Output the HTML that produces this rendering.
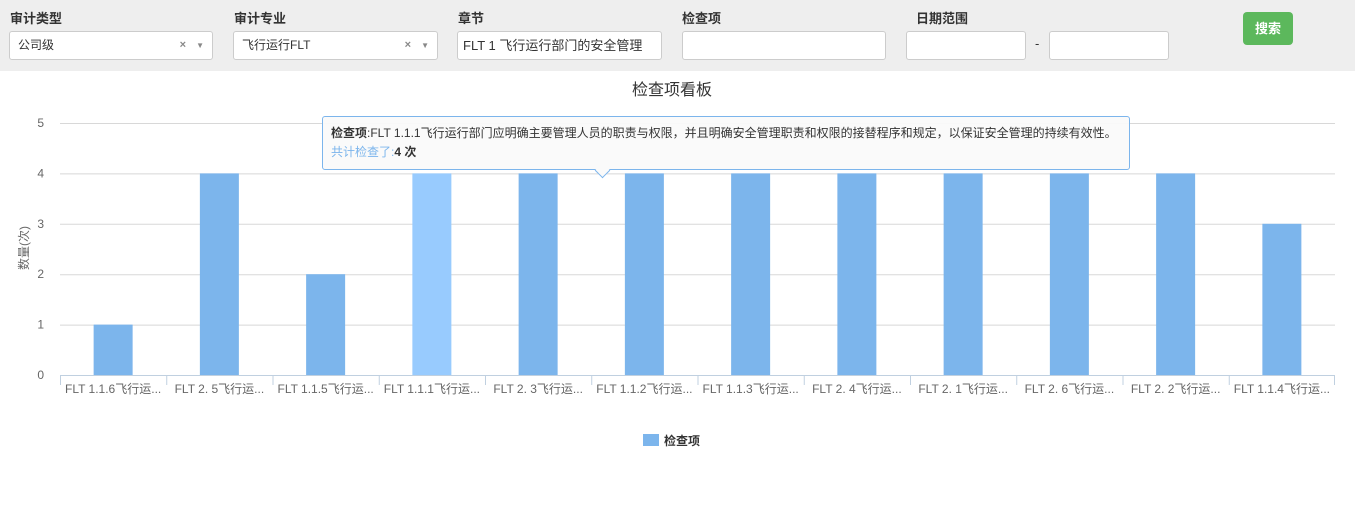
<!DOCTYPE html>
<html><head><meta charset="utf-8">
<style>
*{box-sizing:border-box;margin:0;padding:0}
body{width:1355px;height:514px;background:#fff;font-family:"Liberation Sans","Noto Sans CJK SC",sans-serif;position:relative;overflow:hidden}
.top{position:absolute;left:0;top:0;width:1355px;height:71px;background:#eeeeee}
.lbl{position:absolute;top:8px;font-size:13px;font-weight:bold;color:#333}
.inp{position:absolute;top:31px;height:29px;background:#fff;border:1px solid #ccc;border-radius:3px;font-size:12px;color:#333;padding-left:8px;line-height:27px}
.x{position:absolute;right:26px;top:0;color:#888;font-size:11px;font-weight:bold}
.ar{position:absolute;right:8px;top:0;color:#888;font-size:8px}
.btn{position:absolute;left:1243px;top:12px;width:50px;height:33px;background:#5cb85c;border-radius:4px;color:#fff;font-size:13px;font-weight:bold;text-align:center;line-height:33px}
svg{position:absolute;left:0;top:71px}
.tip{position:absolute;left:322px;top:116px;width:808px;height:54px;background:rgba(250,250,250,.95);border:1px solid #7cb5ec;border-radius:3px;font-size:12px;color:#333;padding:7px 8px;line-height:19px}
.tip:after{content:"";position:absolute;left:274px;bottom:-7px;width:10px;height:10px;background:#fafafa;border-right:1px solid #7cb5ec;border-bottom:1px solid #7cb5ec;transform:rotate(45deg)}
</style></head><body>
<div class="top">
<div class="lbl" style="left:10px">审计类型</div>
<div class="inp" style="left:9px;width:204px">公司级<span class="x">×</span><span class="ar">▼</span></div>
<div class="lbl" style="left:234px">审计专业</div>
<div class="inp" style="left:233px;width:205px">飞行运行FLT<span class="x">×</span><span class="ar">▼</span></div>
<div class="lbl" style="left:458px">章节</div>
<div class="inp" style="left:457px;width:205px;padding-left:5px;font-size:13px">FLT 1 飞行运行部门的安全管理</div>
<div class="lbl" style="left:682px">检查项</div>
<div class="inp" style="left:682px;width:204px"></div>
<div class="lbl" style="left:916px">日期范围</div>
<div class="inp" style="left:906px;width:120px"></div>
<div style="position:absolute;left:1035px;top:36px;font-size:13px;color:#333">-</div>
<div class="inp" style="left:1049px;width:120px"></div>
<div class="btn">搜索</div>
</div>
<svg id="chart" width="1355" height="443"></svg>
<div class="tip"><b>检查项</b>:FLT 1.1.1飞行运行部门应明确主要管理人员的职责与权限，并且明确安全管理职责和权限的接替程序和规定，以保证安全管理的持续有效性。<br><span style="color:#7cb5ec">共计检查了:</span><b>4 次</b></div>
<script>
const categories=["FLT 1.1.6飞行运...","FLT 2. 5飞行运...","FLT 1.1.5飞行运...","FLT 1.1.1飞行运...","FLT 2. 3飞行运...","FLT 1.1.2飞行运...","FLT 1.1.3飞行运...","FLT 2. 4飞行运...","FLT 2. 1飞行运...","FLT 2. 6飞行运...","FLT 2. 2飞行运...","FLT 1.1.4飞行运..."];
const counts=[1,4,2,4,4,4,4,4,4,4,4,3];
const yTicks=[0,1,2,3,4,5];
const highlighted=3;
const NS="http://www.w3.org/2000/svg";
const svg=document.getElementById('chart');
const OY=71,L=60,R=1335,Y0=375-OY,Y5=123-OY,yMax=5;
const y=v=>Y0-(Y0-Y5)*v/yMax;
const bw=(R-L)/categories.length;
const x=i=>L+bw*i;
function mk(t,a,txt){const e=document.createElementNS(NS,t);for(const k in a)e.setAttribute(k,a[k]);if(txt!=null)e.textContent=txt;svg.appendChild(e);return e;}
let e=mk('text',{x:672,y:24,'text-anchor':'middle','font-size':16,fill:'#333'},'检查项看板');


yTicks.forEach(t=>{
 if(t>0){const g=mk('line',{x1:L,x2:R,y1:y(t)+.5,y2:y(t)+.5,stroke:'#d8d8d8'});
 
 }
 const l=mk('text',{x:44,y:y(t)+4,'text-anchor':'end','font-size':12,fill:'#666'},t);
 
 
});
e=mk('text',{x:28,y:248-OY,'text-anchor':'middle','font-size':12,fill:'#666',transform:`rotate(-90 28 ${248-OY})`},'数量(次)');


counts.forEach((v,i)=>{
 const b=mk('rect',{x:x(i)+bw/2-19.5,y:y(v),width:39,height:Y0-y(v),fill:i===highlighted?'#98cbfe':'#7cb5ec'});
 
 
});
e=mk('line',{x1:L,x2:R,y1:Y0+.5,y2:Y0+.5,stroke:'#c0d0e0'});


categories.forEach((c,i)=>{
 const t=mk('line',{x1:x(i)+.5,x2:x(i)+.5,y1:Y0,y2:Y0+10,stroke:'#c0d0e0'});
 
 
 const l=mk('text',{x:x(i)+bw/2,y:Y0+18,'text-anchor':'middle','font-size':12,fill:'#666'},c);
 
 
});
e=mk('line',{x1:R-.5,x2:R-.5,y1:Y0,y2:Y0+10,stroke:'#c0d0e0'});


e=mk('rect',{x:643,y:434-OY,width:16,height:12,fill:'#7cb5ec'});


e=mk('text',{x:664,y:445-OY,'font-size':12,'font-weight':'bold',fill:'#333'},'检查项');


</script>
</body></html>
